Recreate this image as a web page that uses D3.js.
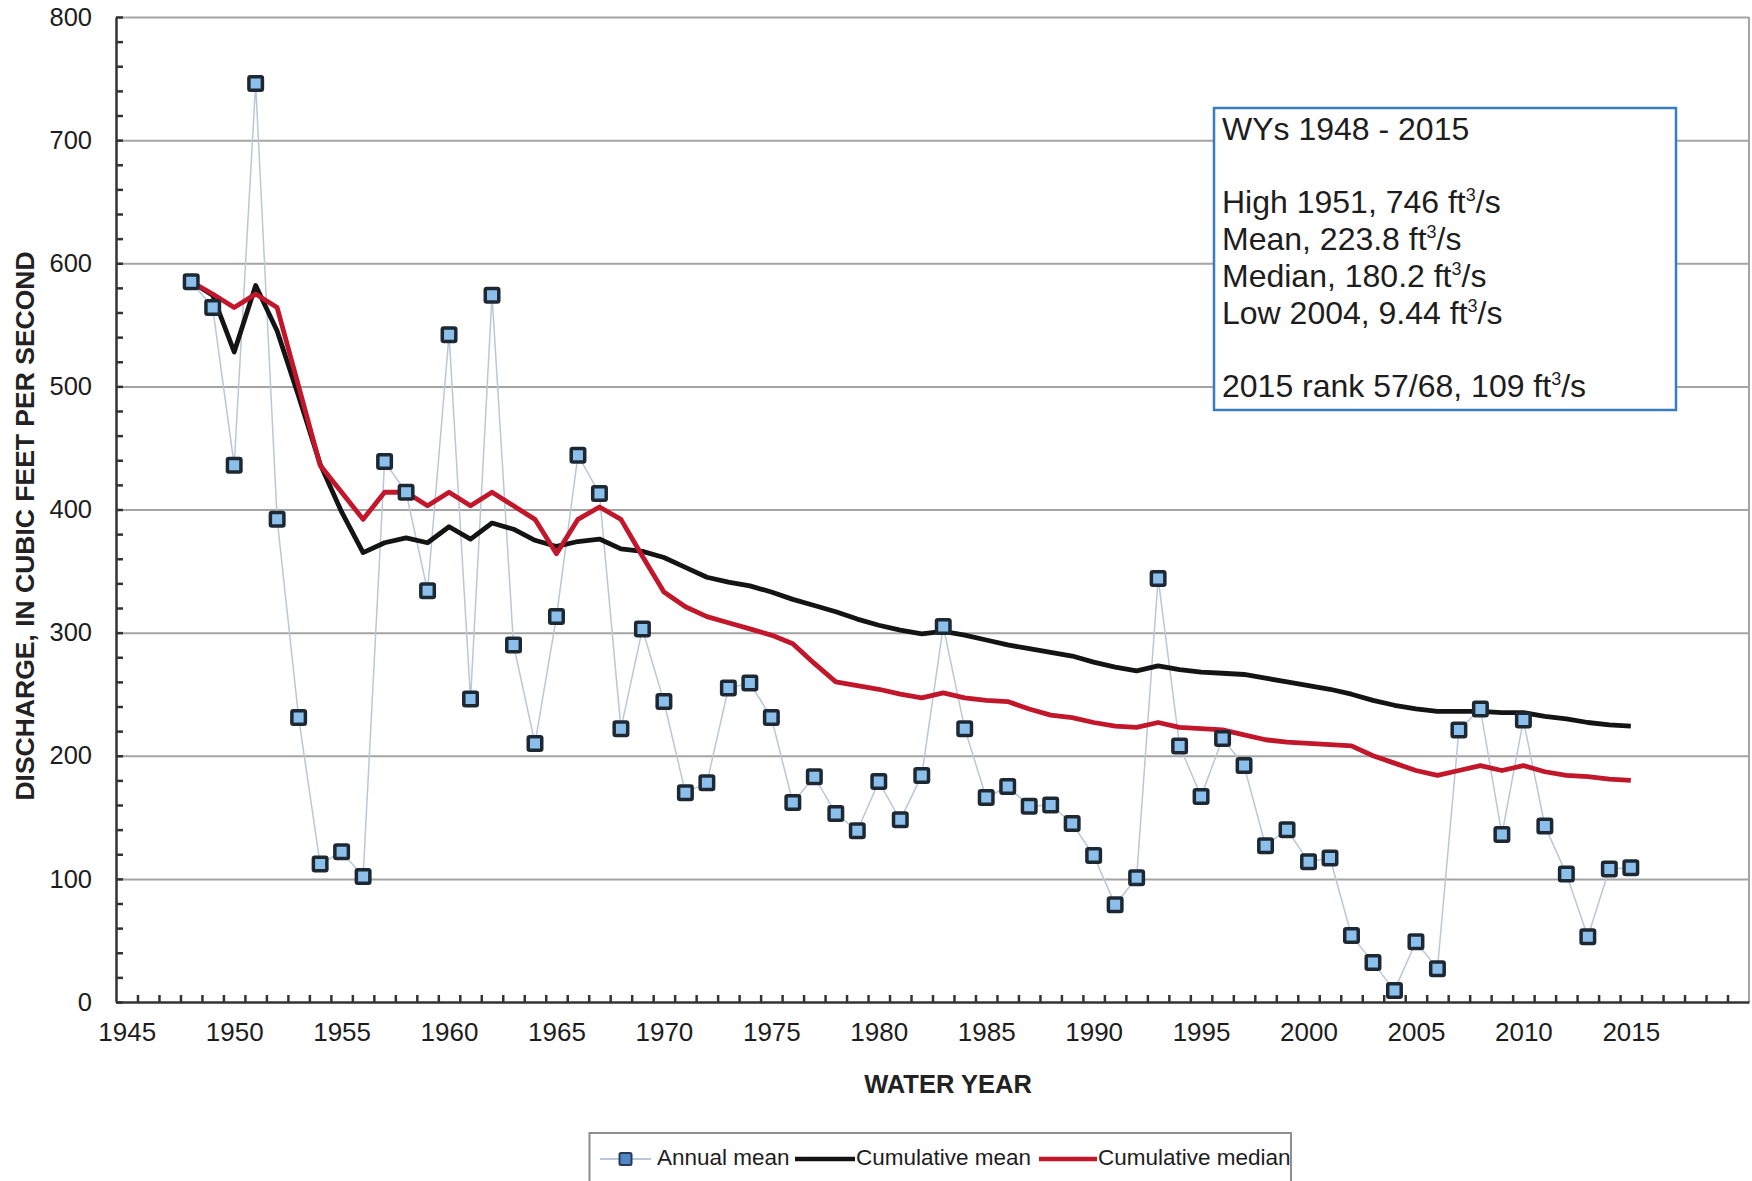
<!DOCTYPE html>
<html>
<head>
<meta charset="utf-8">
<script src="https://cdn.jsdelivr.net/npm/d3@7"></script>
<style>
  body { margin: 0; background: #fff; }
  svg { display: block; font-family: "Liberation Sans", Arial, sans-serif; }
</style>
</head>
<body>
<div id="chart"></div>
<script>
// Data
const years = [1948, 1949, 1950, 1951, 1952, 1953, 1954, 1955, 1956, 1957,
    1958, 1959, 1960, 1961, 1962, 1963, 1964, 1965, 1966, 1967,
    1968, 1969, 1970, 1971, 1972, 1973, 1974, 1975, 1976, 1977,
    1978, 1979, 1980, 1981, 1982, 1983, 1984, 1985, 1986, 1987,
    1988, 1989, 1990, 1991, 1992, 1993, 1994, 1995, 1996, 1997,
    1998, 1999, 2000, 2001, 2002, 2003, 2004, 2005, 2006, 2007,
    2008, 2009, 2010, 2011, 2012, 2013, 2014, 2015];

const annualMean = [585, 564, 436, 746, 392, 231, 112, 122, 102, 439,
    414, 334, 542, 246, 574, 290, 210, 313, 444, 413,
    222, 303, 244, 170, 178, 255, 259, 231, 162, 183,
    153, 139, 179, 148, 184, 305, 222, 166, 175, 159,
    160, 145, 119, 79, 101, 344, 208, 167, 214, 192,
    127, 140, 114, 117, 54, 32, 9.44, 49, 27, 221,
    238, 136, 229, 143, 104, 53, 108, 109];

const cumulativeMean = [585, 574, 528, 582, 545, 492, 437, 398, 365, 373,
    377, 373, 386, 376, 389, 384, 375, 370, 374, 376,
    368, 366, 361, 353, 345, 341, 338, 333, 327, 322,
    317, 311, 306, 302, 299, 301, 298, 294, 290, 287,
    284, 281, 276, 272, 269, 273, 270, 268, 267, 266,
    263, 260, 257, 254, 250, 245, 241, 238, 236, 236,
    236, 235, 235, 232, 230, 227, 225, 224];

const cumulativeMedian = [585, 575, 564, 575, 564, 500, 436, 414, 392, 414,
    414, 403, 414, 403, 414, 403, 392, 364, 392, 402,
    392, 362, 333, 321, 313, 308, 303, 298, 291, 275,
    260, 257, 254, 250, 247, 251, 247, 245, 244, 238,
    233, 231, 227, 224, 223, 227, 223, 222, 221, 217,
    213, 211, 210, 209, 208, 200, 194, 188, 184, 188,
    192, 188, 192, 187, 184, 183, 181, 180];

const yTickValues = [0, 100, 200, 300, 400, 500, 600, 700, 800];
const xTickLabels = [1945, 1950, 1955, 1960, 1965, 1970, 1975, 1980, 1985, 1990, 1995, 2000, 2005, 2010, 2015];

const statsLines = [
    'WYs 1948 - 2015',
    '',
    'High 1951, 746 ft³/s',
    'Mean, 223.8 ft³/s',
    'Median, 180.2 ft³/s',
    'Low 2004, 9.44 ft³/s',
    '',
    '2015 rank 57/68, 109 ft³/s'
];

const legendLabels = ['Annual mean', 'Cumulative mean', 'Cumulative median'];

// Layout
const W = 1752, H = 1181;
const margin = { top: 17, right: 3, bottom: 179, left: 116 };
const width = W - margin.left - margin.right;
const height = H - margin.top - margin.bottom;
const FONT = '"Liberation Sans", Arial, sans-serif';

const svg = d3.select('#chart').append('svg')
    .attr('width', W)
    .attr('height', H);

const g = svg.append('g')
    .attr('transform', `translate(${margin.left},${margin.top})`);

const x = d3.scaleLinear()
    .domain([1944.5, 2020.5])
    .range([0, width]);

const y = d3.scaleLinear()
    .domain([0, 800])
    .range([height, 0]);

// gridlines
g.append('g')
    .call(d3.axisLeft(y).tickValues(yTickValues.filter(v => v > 0)).tickSize(-width).tickFormat(''))
    .call(a => a.select('.domain').remove())
    .selectAll('line')
    .attr('stroke', '#a4a4a4')
    .attr('stroke-width', 2);

// right frame
g.append('line')
    .attr('x1', width).attr('x2', width)
    .attr('y1', 0).attr('y2', height)
    .attr('stroke', '#a4a4a4')
    .attr('stroke-width', 2);

// minor ticks, pointing inward
g.append('g')
    .call(d3.axisLeft(y).tickValues(d3.range(0, 801, 20)).tickSizeInner(-7).tickSizeOuter(0).tickFormat(''))
    .call(a => a.selectAll('line, path').attr('stroke', '#333').attr('stroke-width', 2.5));

g.append('g')
    .attr('transform', `translate(0,${height})`)
    .call(d3.axisBottom(x).tickValues(d3.range(1945.5, 2020.5, 1)).tickSizeInner(-7).tickSizeOuter(0).tickFormat(''))
    .call(a => a.selectAll('line, path').attr('stroke', '#333').attr('stroke-width', 2.5));

// tick labels
g.append('g')
    .call(d3.axisLeft(y).tickValues(yTickValues).tickSize(0).tickPadding(24))
    .attr('font-family', FONT)
    .attr('font-size', 25.5)
    .call(a => a.select('.domain').remove())
    .selectAll('text').attr('fill', '#1d1d1d');

g.append('g')
    .attr('transform', `translate(0,${height})`)
    .call(d3.axisBottom(x).tickValues(xTickLabels).tickSize(0).tickPadding(21).tickFormat(d3.format('d')))
    .attr('font-family', FONT)
    .attr('font-size', 26)
    .call(a => a.select('.domain').remove())
    .selectAll('text').attr('fill', '#1d1d1d');

// axis titles
svg.append('text')
    .attr('transform', 'translate(33.5,526) rotate(-90)')
    .attr('text-anchor', 'middle')
    .attr('font-weight', 'bold')
    .attr('font-size', 26.5)
    .attr('fill', '#222')
    .text('DISCHARGE, IN CUBIC FEET PER SECOND');

svg.append('text')
    .attr('x', 948)
    .attr('y', 1093)
    .attr('text-anchor', 'middle')
    .attr('font-weight', 'bold')
    .attr('font-size', 25.5)
    .attr('fill', '#222')
    .text('WATER YEAR');

// series
const annualData = years.map((yr, i) => ({ year: yr, value: annualMean[i] }));
const meanData = years.map((yr, i) => ({ year: yr, value: cumulativeMean[i] }));
const medianData = years.map((yr, i) => ({ year: yr, value: cumulativeMedian[i] }));

const line = d3.line()
    .x(d => x(d.year))
    .y(d => y(d.value));

g.append('path')
    .datum(annualData)
    .attr('d', line)
    .attr('fill', 'none')
    .attr('stroke', '#b8c8d9')
    .attr('stroke-width', 1.5);

g.append('path')
    .datum(meanData)
    .attr('d', line)
    .attr('fill', 'none')
    .attr('stroke', '#141414')
    .attr('stroke-width', 4.8)
    .attr('stroke-linejoin', 'round');

g.append('path')
    .datum(medianData)
    .attr('d', line)
    .attr('fill', 'none')
    .attr('stroke', '#c2162b')
    .attr('stroke-width', 4.8)
    .attr('stroke-linejoin', 'round');

const sq = 13.5;
g.selectAll('.pt')
    .data(annualData)
    .enter().append('rect')
    .attr('class', 'pt')
    .attr('x', d => x(d.year) - sq / 2)
    .attr('y', d => y(d.value) - sq / 2)
    .attr('width', sq)
    .attr('height', sq)
    .attr('rx', 1.5)
    .attr('fill', '#8cc0ec')
    .attr('stroke', '#1e2833')
    .attr('stroke-width', 3.5);

// stats box
const box = svg.append('g');
box.append('rect')
    .attr('x', 1214).attr('y', 108)
    .attr('width', 462).attr('height', 302)
    .attr('fill', '#fff')
    .attr('stroke', '#3a7cc0')
    .attr('stroke-width', 2.5);

statsLines.forEach((s, i) => {
    if (!s) return;
    const t = box.append('text')
        .attr('x', 1222)
        .attr('y', 140 + i * 36.7)
        .attr('font-size', 32)
        .attr('fill', '#1d1d1d');
    const parts = s.split('³');
    t.append('tspan').text(parts[0]);
    if (parts.length > 1) {
        t.append('tspan').attr('font-size', 18).attr('dy', -12).text('3');
        t.append('tspan').attr('dy', 12).text(parts[1]);
    }
});

// legend
const legend = svg.append('g');
legend.append('rect')
    .attr('x', 589.5).attr('y', 1133)
    .attr('width', 701.5).attr('height', 60)
    .attr('fill', '#fff')
    .attr('stroke', '#8f8f8f')
    .attr('stroke-width', 2);

const legendItems = [
    { x1: 600, x2: 651, tx: 657, color: '#b8c8d9', w: 2, marker: true },
    { x1: 795, x2: 855, tx: 856, color: '#141414', w: 4.5, marker: false },
    { x1: 1039, x2: 1097, tx: 1098, color: '#c2162b', w: 4.5, marker: false }
];

legendItems.forEach((it, i) => {
    legend.append('line')
        .attr('x1', it.x1).attr('x2', it.x2)
        .attr('y1', 1159).attr('y2', 1159)
        .attr('stroke', it.color)
        .attr('stroke-width', it.w);
    if (it.marker) {
        legend.append('rect')
            .attr('x', (it.x1 + it.x2) / 2 - 6).attr('y', 1153)
            .attr('width', 12).attr('height', 12)
            .attr('rx', 1.5)
            .attr('fill', '#4f86c6')
            .attr('stroke', '#2a3a52')
            .attr('stroke-width', 2);
    }
    legend.append('text')
        .attr('x', it.tx)
        .attr('y', 1165)
        .attr('font-size', 22.5)
        .attr('fill', '#1d1d1d')
        .text(legendLabels[i]);
});
</script>
</body>
</html>
